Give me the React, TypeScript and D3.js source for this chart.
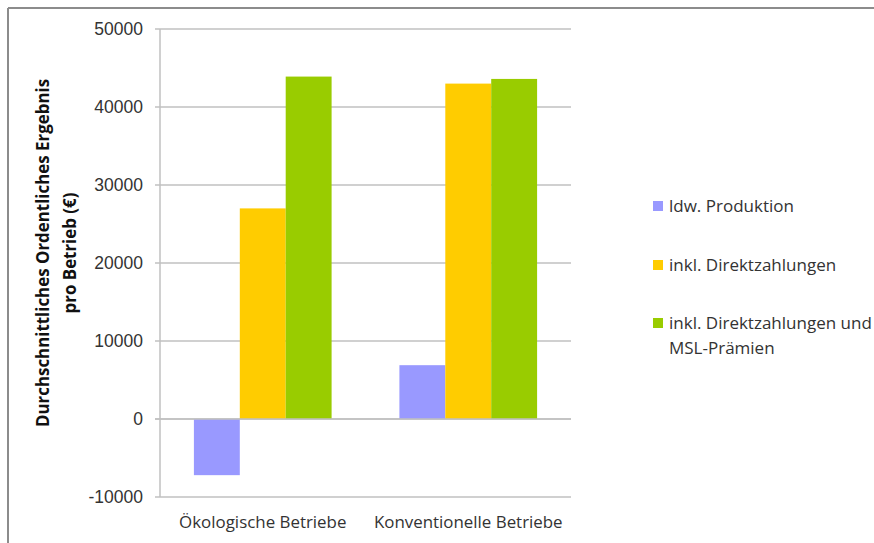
import React from "react";
import * as d3 from "d3";

const categories = ["Ökologische Betriebe", "Konventionelle Betriebe"];
const seriesNames = ["ldw. Produktion", "inkl. Direktzahlungen", "inkl. Direktzahlungen und MSL-Prämien"];
const ldwProduktion = [-7200, 6900];
const inklDirektzahlungen = [27000, 43000];
const inklDirektMSL = [43900, 43600];
const yTicks = [-10000, 0, 10000, 20000, 30000, 40000, 50000];
const colors = ["#9999FF", "#FFCC00", "#99CC00"];

const W = 874, H = 543;
const plot = { left: 160, right: 571, top: 29, bottom: 497 };

export default function App() {
  const series = [ldwProduktion, inklDirektzahlungen, inklDirektMSL];
  const y = d3.scaleLinear().domain([-10000, 50000]).range([plot.bottom, plot.top]);
  const x0 = d3.scaleBand<string>().domain(categories).range([plot.left, plot.right]).paddingInner(0.33).paddingOuter(0.165);
  const x1 = d3.scaleBand<number>().domain([0, 1, 2]).range([0, x0.bandwidth()]);
  const font = "Liberation Sans, Arial, sans-serif";
  const font2 = "Open Sans, sans-serif";
  const legendY = [206, 265, 323];
  const legendLines = [["ldw. Produktion"], ["inkl. Direktzahlungen"], ["inkl. Direktzahlungen und", "MSL-Prämien"]];
  return (
    <svg width={W} height={H} style={{ position: "fixed", left: 0, top: 0, background: "#fff" }}>
      <rect x={0} y={0} width={W} height={H} fill="#fff" />
      <line x1={8} x2={874} y1={8} y2={8} stroke="#8c8c8c" strokeWidth={2} />
      <line x1={8} x2={8} y1={8} y2={543} stroke="#8c8c8c" strokeWidth={2} />
      {yTicks.map((t) => (
        <g key={t}>
          <line x1={plot.left - 5} x2={plot.right} y1={y(t)} y2={y(t)} stroke="#c0c0c0" strokeWidth={1.5} />
          <text x={143} y={y(t)} dy="0.36em" textAnchor="end" fontFamily={font} fontSize={17.5} fill="#333">{t}</text>
        </g>
      ))}
      <line x1={plot.left} x2={plot.left} y1={plot.top} y2={plot.bottom} stroke="#c0c0c0" strokeWidth={1.5} />
      {categories.map((c, ci) => (
        <g key={c}>
          {series.map((s, si) => (
            <rect key={si} x={(x0(c) as number) + (x1(si) as number)} width={x1.bandwidth()}
              y={Math.min(y(s[ci]), y(0))} height={Math.abs(y(s[ci]) - y(0))} fill={colors[si]} />
          ))}
          <text x={(x0(c) as number) + x0.bandwidth() / 2} y={528} textAnchor="middle" fontFamily={font2} fontSize={16.9} fill="#333">{c}</text>
        </g>
      ))}
      <line x1={plot.left - 5} x2={plot.right} y1={y(0)} y2={y(0)} stroke="#c0c0c0" strokeWidth={1.5} />
      <g transform="translate(56,253) rotate(-90)">
        <text x={0} y={-7} textAnchor="middle" fontFamily={font2} fontWeight="bold" fontSize={16.9} fill="#111">Durchschnittliches Ordentliches Ergebnis</text>
        <text x={0} y={20} textAnchor="middle" fontFamily={font2} fontWeight="bold" fontSize={16.9} fill="#111">pro Betrieb (€)</text>
      </g>
      {seriesNames.map((n, i) => (
        <g key={n}>
          <rect x={653} y={legendY[i] - 5} width={10} height={10} fill={colors[i]} />
          {legendLines[i].map((l, li) => (
            <text key={li} x={669} y={legendY[i] + 6 + li * 25} fontFamily={font2} fontSize={17} fill="#333">{l}</text>
          ))}
        </g>
      ))}
    </svg>
  );
}
